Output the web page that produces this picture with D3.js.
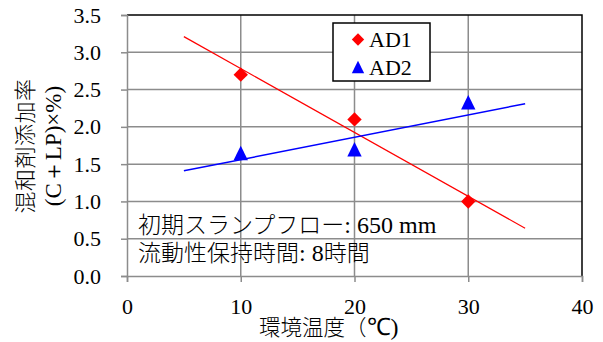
<!DOCTYPE html>
<html>
<head>
<meta charset="utf-8">
<script src="https://cdn.jsdelivr.net/npm/d3@7"></script>
<style>
  html, body { margin: 0; padding: 0; background: #fff; }
  svg { display: block; }
</style>
</head>
<body>
<svg id="chart" width="603" height="342"></svg>
<script>
// Temperature (°C) for each measurement
const temperatures = [10, 20, 30];
// Admixture dosage, (C+LP)×%
const ad1Values = [2.7, 2.1, 1.0];
const ad2Values = [1.65, 1.7, 2.33];
// Linear trend lines, drawn between these temperatures
const trendX = [5, 35];
const ad1Trend = [3.21, 0.64];
const ad2Trend = [1.41, 2.31];
// Axis ticks
const xTicks = [0, 10, 20, 30, 40];
const yTicks = [0.0, 0.5, 1.0, 1.5, 2.0, 2.5, 3.0, 3.5];

const SERIF = "Liberation Serif";
const CJK = "Noto Sans CJK JP";
const gridColor = "#8c8c8c";

const svg = d3.select("#chart");
const m = { left: 127, right: 582, top: 15, bottom: 276 };

const x = d3.scaleLinear().domain([0, 40]).range([m.left, m.right]);
const y = d3.scaleLinear().domain([0, 3.5]).range([m.bottom, m.top]);

// Gridlines
svg.append("g").selectAll("line").data(yTicks.slice(1, -1)).join("line")
  .attr("x1", m.left).attr("x2", m.right)
  .attr("y1", d => y(d)).attr("y2", d => y(d))
  .attr("stroke", gridColor).attr("stroke-width", 1.5);
svg.append("g").selectAll("line").data(xTicks.slice(1, -1)).join("line")
  .attr("x1", d => x(d)).attr("x2", d => x(d))
  .attr("y1", m.top).attr("y2", m.bottom)
  .attr("stroke", gridColor).attr("stroke-width", 1.5);

// Top and right frame
svg.append("path")
  .attr("d", `M${m.left},${m.top}H${m.right}V${m.bottom}`)
  .attr("fill", "none").attr("stroke", "#000").attr("stroke-width", 1.5);

// Axes
const yAxis = svg.append("g").attr("transform", `translate(${m.left},0)`)
  .call(d3.axisLeft(y).tickValues(yTicks).tickFormat(d3.format(".1f")).tickSizeOuter(0).tickSize(6).tickPadding(20));
const xAxis = svg.append("g").attr("transform", `translate(0,${m.bottom})`)
  .call(d3.axisBottom(x).tickValues(xTicks).tickFormat(d3.format("d")).tickSizeOuter(0).tickSize(6).tickPadding(16));
[yAxis, xAxis].forEach(a => {
  a.attr("font-family", SERIF).attr("font-size", 22);
  a.select(".domain").attr("stroke", gridColor).attr("stroke-width", 1.5);
  a.selectAll(".tick line").attr("stroke", gridColor).attr("stroke-width", 1.5);
  a.selectAll(".tick text").attr("fill", "#000");
});

// Trend lines
const line = d3.line().x(d => x(d[0])).y(d => y(d[1]));
svg.append("path").datum(d3.zip(trendX, ad1Trend)).attr("d", line)
  .attr("fill", "none").attr("stroke", "#ff0000").attr("stroke-width", 1.2);
svg.append("path").datum(d3.zip(trendX, ad2Trend)).attr("d", line)
  .attr("fill", "none").attr("stroke", "#0000ff").attr("stroke-width", 1.5);

// Marker shapes
const diamond = s => `M0,${-s}L${s},0L0,${s}L${-s},0Z`;
const triangle = s => `M0,${-s}L${s},${s}L${-s},${s}Z`;

svg.append("g").selectAll("path").data(d3.zip(temperatures, ad1Values)).join("path")
  .attr("transform", d => `translate(${x(d[0])},${y(d[1])})`)
  .attr("d", diamond(7.2)).attr("fill", "#ff0000");
svg.append("g").selectAll("path").data(d3.zip(temperatures, ad2Values)).join("path")
  .attr("transform", d => `translate(${x(d[0])},${y(d[1])})`)
  .attr("d", triangle(7.2)).attr("fill", "#0000ff");

// Legend
const lg = svg.append("g");
lg.append("rect").attr("x", 333).attr("y", 23).attr("width", 97).attr("height", 58)
  .attr("fill", "#fff").attr("stroke", "#000").attr("stroke-width", 1.5);
const legendItems = [
  { name: "AD1", shape: diamond(6.2), color: "#ff0000", cy: 39.5 },
  { name: "AD2", shape: triangle(6.2), color: "#0000ff", cy: 67 }
];
legendItems.forEach(it => {
  lg.append("path").attr("transform", `translate(358,${it.cy})`).attr("d", it.shape).attr("fill", it.color);
  lg.append("text").attr("x", 369).attr("y", it.cy + 7.5).text(it.name)
    .attr("font-family", SERIF).attr("font-size", 22);
});

// Annotation
const ann = svg.append("g");
const l1 = ann.append("text").attr("x", 138).attr("y", 233);
l1.append("tspan").attr("font-family", CJK).attr("font-weight", 300).attr("font-size", 23).text("初期スランプフロー");
l1.append("tspan").attr("font-family", SERIF).attr("font-size", 24).text(": 650 mm");
const l2 = ann.append("text").attr("x", 138).attr("y", 261);
l2.append("tspan").attr("font-family", CJK).attr("font-weight", 300).attr("font-size", 23).text("流動性保持時間");
l2.append("tspan").attr("font-family", SERIF).attr("font-size", 24).text(": 8");
l2.append("tspan").attr("font-family", CJK).attr("font-weight", 300).attr("font-size", 23).text("時間");

// Axis titles
const xt = svg.append("text").attr("x", 259).attr("y", 335);
xt.append("tspan").attr("font-family", CJK).attr("font-weight", 300).attr("font-size", 21.5).text("環境温度");
xt.append("tspan").attr("font-family", CJK).attr("font-weight", 300).attr("font-size", 21.5).text("（");
xt.append("tspan").attr("font-family", SERIF).attr("font-size", 24).text("℃)");

const yt = svg.append("g").attr("transform", "translate(0,146) rotate(-90)");
yt.append("text").attr("x", 0).attr("y", 33).attr("text-anchor", "middle")
  .attr("font-family", CJK).attr("font-weight", 300).attr("font-size", 22).attr("letter-spacing", 0.5).text("混和剤添加率");
yt.append("text").attr("x", 0).attr("y", 61).attr("text-anchor", "middle")
  .attr("font-family", SERIF).attr("font-size", 23).text("(C＋LP)×%)");
</script>
</body>
</html>
